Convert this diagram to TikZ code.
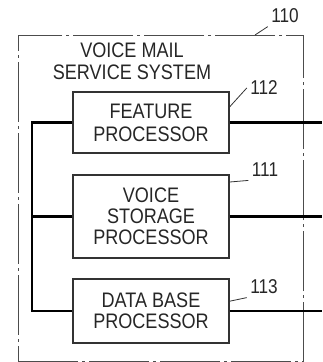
\documentclass[tikz,border=0pt]{standalone}
\usepackage{fontspec}
\setmainfont{Liberation Sans}[FakeStretch=0.86]
\usetikzlibrary{positioning, calc}

\begin{document}
\begin{tikzpicture}[
    x=1pt, y=-1pt,
    every node/.style={font=\fontsize{21}{21}\selectfont, text=black!85},
    unit/.style={draw=black!80, line width=1.1pt, minimum width=156pt, inner sep=0pt, align=center},
    frame/.style={draw=black!70, line width=0.9pt, dash pattern=on 60pt off 4pt on 3pt off 4pt, minimum width=285pt, minimum height=326pt, inner sep=0pt},
    refnum/.style={font=\fontsize{20}{20}\selectfont},
    leader/.style={draw=black!80, line width=0.8pt},
    bus/.style={draw=black, line width=2.2pt}
]
\useasboundingbox (0,0) rectangle (322,362);

% Outer system frame
\node[frame] (sys) at (160.5,198) {};
\node (title) at (132,61) [align=center, font=\fontsize{21}{22}\selectfont] {VOICE MAIL\\SERVICE SYSTEM};

% Processor units
\node[unit, minimum height=61pt, font=\fontsize{21}{23}\selectfont] (feat) at (151,122.5) {FEATURE\\PROCESSOR};
\node[unit, minimum height=83pt] (voice) at (151,216.5) {VOICE\\STORAGE\\PROCESSOR};
\node[unit, minimum height=64pt] (base) at (151,311) {DATA BASE\\PROCESSOR};

% Reference numerals
\node[refnum] (n110) at (285,16) {110};
\node[refnum] (n112) at (264,88) {112};
\node[refnum] (n111) at (265,170) {111};
\node[refnum] (n113) at (264,287) {113};

\coordinate (l110) at (255,35);
\draw[leader] (l110) -- (n110.south west);
\draw[leader] ($(feat.north east)!0.25!(feat.south east)$) -- (n112.west);
\draw[leader] ($(voice.north east)!0.09!(voice.south east)$) -- (n111.south west);
\draw[leader] ($(base.north east)!0.35!(base.south east)$) -- (n113.south west);

% Bus lines
\coordinate (busx) at (32,0);
\coordinate (edge) at (322,0);
\draw[bus] (feat.west) -- (feat.west -| busx) -- (base.west -| busx) -- (base.west);
\draw[bus] (voice.west) -- (voice.west -| busx);
\draw[bus] (feat.east) -- (feat.east -| edge);
\draw[bus] (voice.east) -- (voice.east -| edge);
\draw[bus] (base.east) -- (base.east -| edge);

\end{tikzpicture}
\end{document}
